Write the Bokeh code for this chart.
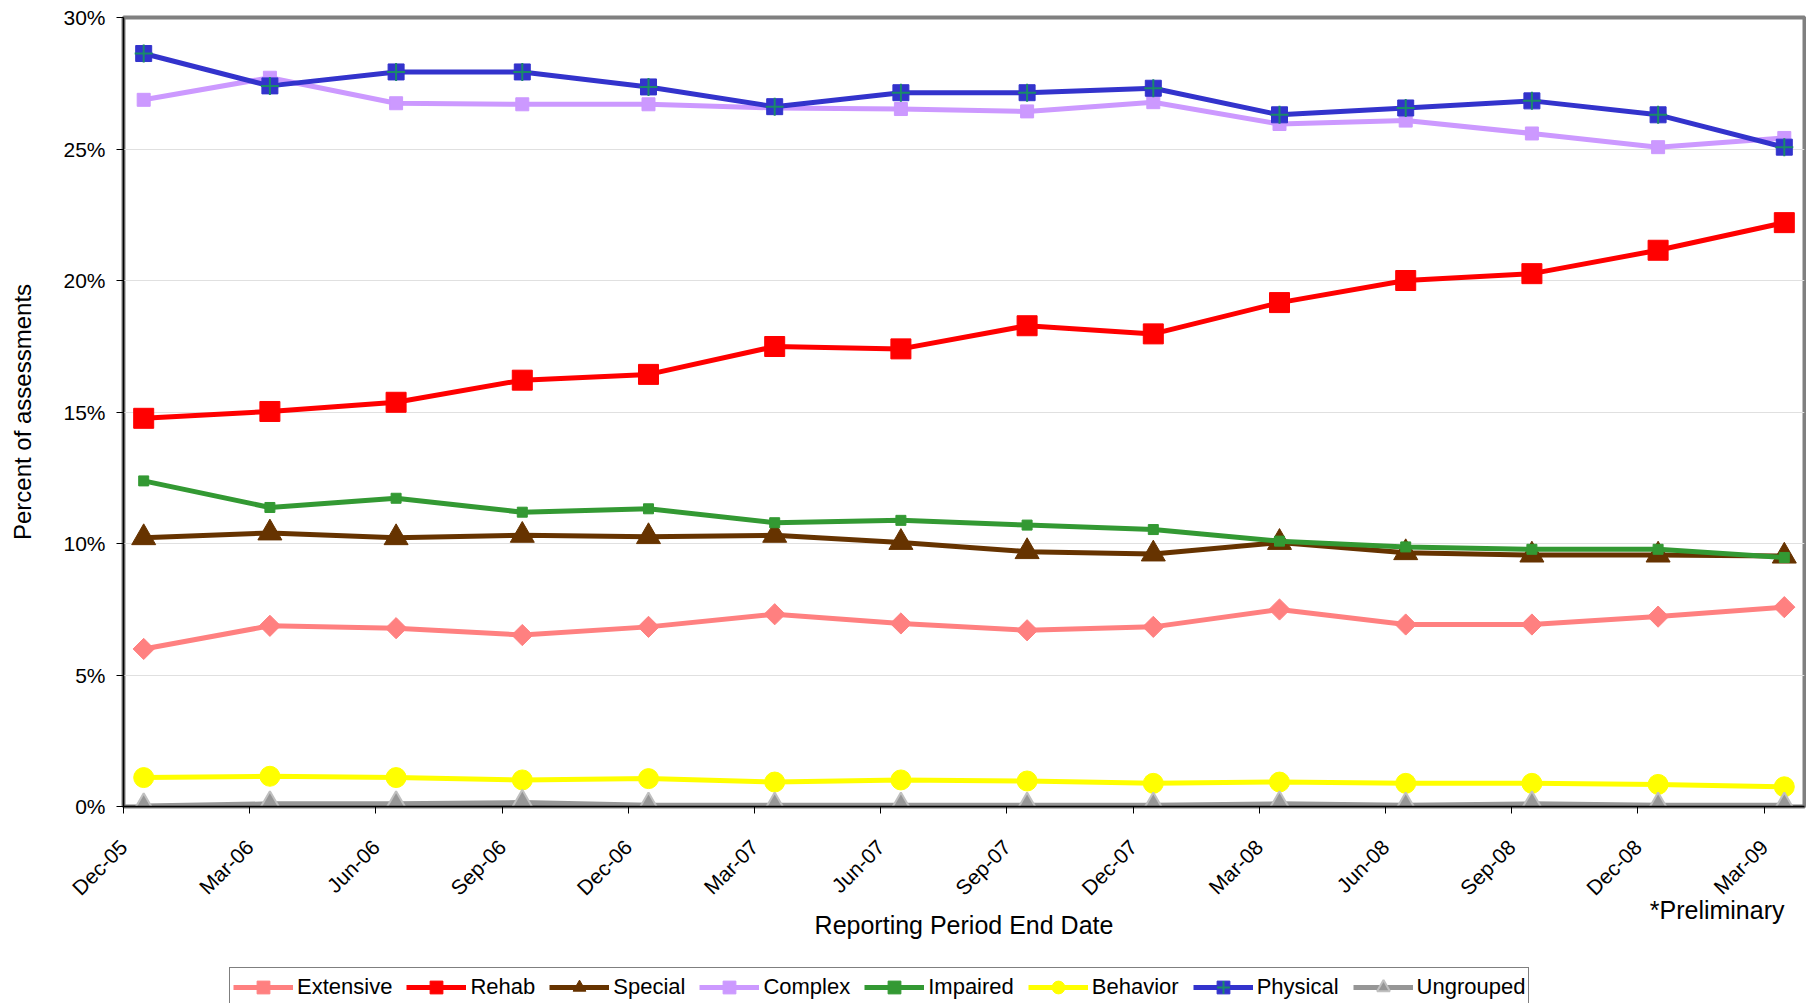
import numpy as np
from bokeh.plotting import figure
from bokeh.layouts import column
from bokeh.models import Range1d, FixedTicker, PrintfTickFormatter, Legend, LegendItem, Title
from bokeh.embed import file_html
from bokeh.resources import INLINE

periods = ["Dec-05", "Mar-06", "Jun-06", "Sep-06", "Dec-06", "Mar-07", "Jun-07",
           "Sep-07", "Dec-07", "Mar-08", "Jun-08", "Sep-08", "Dec-08", "Mar-09"]

extensive = [5.99, 6.87, 6.78, 6.52, 6.83, 7.31, 6.96, 6.70, 6.83, 7.49, 6.92, 6.92, 7.22, 7.58]
rehab = [14.76, 15.02, 15.37, 16.21, 16.43, 17.49, 17.40, 18.28, 17.97, 19.16, 20.00, 20.26, 21.15, 22.20]
special = [10.22, 10.40, 10.22, 10.31, 10.26, 10.31, 10.04, 9.69, 9.60, 10.04, 9.65, 9.56, 9.56, 9.52]
complex_ = [26.87, 27.71, 26.74, 26.70, 26.70, 26.56, 26.52, 26.43, 26.78, 25.95, 26.08, 25.59, 25.07, 25.42]
impaired = [12.38, 11.37, 11.72, 11.19, 11.32, 10.79, 10.88, 10.70, 10.53, 10.09, 9.87, 9.78, 9.78, 9.47]
behavior = [1.10, 1.15, 1.10, 1.01, 1.06, 0.93, 1.01, 0.97, 0.88, 0.93, 0.88, 0.88, 0.84, 0.75]
physical = [28.63, 27.40, 27.93, 27.93, 27.36, 26.61, 27.14, 27.14, 27.31, 26.30, 26.56, 26.83, 26.30, 25.07]
ungrouped = [0.02, 0.10, 0.10, 0.15, 0.05, 0.05, 0.05, 0.05, 0.05, 0.10, 0.05, 0.10, 0.05, 0.05]

series_names = ["Extensive", "Rehab", "Special", "Complex", "Impaired", "Behavior", "Physical", "Ungrouped"]
y_ticks = [0, 5, 10, 15, 20, 25, 30]

FONT = "Liberation Sans"

# quarter-end points sit a little right of their date tick
idx = np.arange(len(periods))
xs = idx + 0.16

p = figure(width=1806, height=965, output_backend="svg", toolbar_location=None,
           x_range=Range1d(0, 13.32), y_range=Range1d(0, 30),
           min_border_left=123, min_border_right=2, min_border_top=17, min_border_bottom=159)

p.outline_line_color = "#808080"
p.outline_line_width = 4
p.background_fill_color = "white"
p.border_fill_color = "white"

p.xgrid.visible = False
p.ygrid.ticker = FixedTicker(ticks=y_ticks)
p.ygrid.grid_line_color = "#E0E0E0"
p.ygrid.grid_line_width = 1

xa = p.xaxis[0]
xa.ticker = FixedTicker(ticks=list(range(len(periods))))
xa.major_label_overrides = {int(i): periods[i] for i in range(len(periods))}
xa.major_label_orientation = np.pi / 4
xa.major_label_text_font = FONT
xa.major_label_text_font_size = "21px"
xa.major_label_text_color = "black"
xa.major_tick_in = 0
xa.major_tick_out = 7
xa.minor_tick_out = 0
xa.minor_tick_in = 0
xa.axis_line_color = "black"
xa.axis_line_width = 1.5
xa.major_tick_line_color = "black"
xa.major_label_standoff = 30
xa.axis_label = None

ya = p.yaxis[0]
ya.ticker = FixedTicker(ticks=y_ticks)
ya.formatter = PrintfTickFormatter(format="%d%%")
ya.major_label_text_font = FONT
ya.major_label_text_font_size = "21px"
ya.major_label_text_color = "black"
ya.major_tick_in = 0
ya.major_tick_out = 7
ya.minor_tick_out = 0
ya.minor_tick_in = 0
ya.axis_line_color = "black"
ya.axis_line_width = 1.5
ya.major_tick_line_color = "black"
ya.axis_label = "Percent of assessments"
ya.axis_label_text_font = FONT
ya.axis_label_text_font_size = "24px"
ya.axis_label_text_font_style = "normal"
ya.axis_label_text_color = "black"
ya.axis_label_standoff = 24
ya.major_label_standoff = 11

LW = 5
styles = [
    dict(color="#FF8080", marker="square", angle=np.pi / 4, size=15, outline="#FF8080", ow=1),
    dict(color="#FF0000", marker="square", angle=0, size=20, outline="#FF0000", ow=1),
    dict(color="#663300", marker="triangle", angle=0, size=24, outline="#663300", ow=1),
    dict(color="#CC99FF", marker="square", angle=0, size=13, outline="#CC99FF", ow=1),
    dict(color="#339933", marker="square", angle=0, size=10, outline="#339933", ow=1),
    dict(color="#FFFF00", marker="circle", angle=0, size=20, outline="#FFFF00", ow=1),
    dict(color="#3333CC", marker="square", angle=0, size=16, outline="#3333CC", ow=1),
    dict(color="#969696", marker="triangle", angle=0, size=22, outline="#C0C0C0", ow=2),
]
series_values = [extensive, rehab, special, complex_, impaired, behavior, physical, ungrouped]


def draw(fig, xvals, yvals, st, with_cross):
    r = [fig.line(xvals, yvals, line_color=st["color"], line_width=LW),
         fig.scatter(xvals, yvals, marker=st["marker"], angle=st["angle"], size=st["size"],
                     fill_color=st["color"], line_color=st["outline"], line_width=st["ow"])]
    if with_cross:
        r.append(fig.scatter(xvals, yvals, marker="cross", size=18, line_color="#1A8A6A", line_width=2))
    return r


for name, vals, st in zip(series_names, series_values, styles):
    draw(p, xs, vals, st, name == "Physical")

t_pre = Title(text="*Preliminary", align="right", vertical_align="top", standoff=-30, offset=20,
              text_font=FONT, text_font_size="25px", text_font_style="normal", text_color="black")
p.add_layout(t_pre, "below")

t_x = Title(text="Reporting Period End Date", align="center", vertical_align="top", standoff=0,
            text_font=FONT, text_font_size="25px", text_font_style="normal", text_color="black")
p.add_layout(t_x, "below")

# legend strip underneath the chart (its series lie outside its view; only the key is shown)
lg = figure(width=1806, height=38, output_backend="svg", toolbar_location=None,
            x_range=Range1d(0, 1), y_range=Range1d(1000, 1001), x_axis_type=None, y_axis_type=None,
            min_border_left=0, min_border_right=0, min_border_top=0, min_border_bottom=0)
lg.outline_line_color = None
lg.background_fill_color = "white"
lg.border_fill_color = "white"
lg.xgrid.visible = False
lg.ygrid.visible = False

items = []
for name, vals, st in zip(series_names, series_values, styles):
    rs = draw(lg, xs, vals, st, name == "Physical")
    items.append(LegendItem(label=name, renderers=rs))

legend = Legend(items=items, orientation="horizontal", location=(106, -4),
                label_text_font=FONT, label_text_font_size="22px", label_text_color="black",
                glyph_width=60, glyph_height=32, label_height=32, label_standoff=4,
                spacing=14, padding=3, margin=0,
                border_line_color="black", border_line_width=1,
                background_fill_color="white", background_fill_alpha=1.0)
lg.add_layout(legend, "center")

page = column(p, lg, spacing=0)
open("out.html", "w").write(file_html(page, INLINE))
